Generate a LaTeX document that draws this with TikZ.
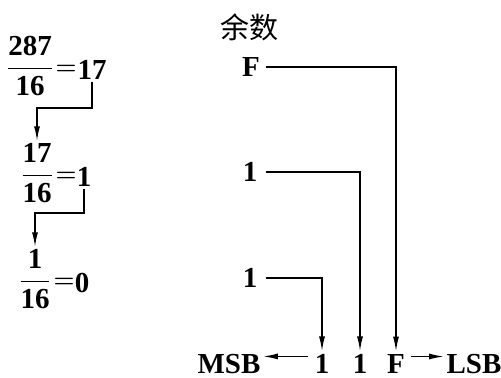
\documentclass[tikz,border=0pt]{standalone}
\usepackage{fontspec}
\usepackage{amsmath}
\setmainfont{Liberation Serif}
\newfontfamily\cjk{Noto Sans CJK SC}
\usetikzlibrary{arrows.meta}

\begin{document}
\begin{tikzpicture}[x=0.5pt, y=-0.5pt]

%-------------------------------------------------
% Styles
%-------------------------------------------------
\tikzset{
  txt/.style={inner sep=1pt, font=\fontsize{14.5}{17}\selectfont\bfseries},
  eqsign/.style={inner sep=0pt, font=\fontsize{12}{14}\selectfont},
  digit/.style={txt, anchor=base},
  flow/.style={draw=black, line width=0.8pt, -{Latex[length=7.5pt,width=3pt]}}
}

\useasboundingbox (0,0) rectangle (501,378);

%-------------------------------------------------
% LEFT: repeated division by 16
%-------------------------------------------------
\node[txt] (frac1) at (30,66) {$\dfrac{\textbf{287}}{\textbf{16}}$};
\node[eqsign] (eq1) at (66,70) {$\boldsymbol{=}$};
\node[txt] (res1)  at (92,70) {17};

\node[txt] (frac2) at (37,173) {$\dfrac{\textbf{17}}{\textbf{16}}$};
\node[eqsign] (eq2) at (66,177) {$\boldsymbol{=}$};
\node[txt] (res2)  at (84,177) {1};

\node[txt] (frac3) at (35,279) {$\dfrac{\textbf{1}}{\textbf{16}}$};
\node[eqsign] (eq3) at (64,283) {$\boldsymbol{=}$};
\node[txt] (res3)  at (82,283) {0};

% quotient carried down
\draw[flow] (res1.south) -- ++(0,26) -| (frac2.north);
\draw[flow] (res2.south) -- ++(0,24) -| (frac3.north);

%-------------------------------------------------
% RIGHT: remainders
%-------------------------------------------------
\node[font=\fontsize{14.5}{17}\selectfont\cjk] (title) at (249,27) {余数};

\node[txt] (remF) at (251,67)  {F};
\node[txt] (rem1) at (250,172) {1};
\node[txt] (rem0) at (250,278) {1};

% result digits
\node[digit] (hexA) at (322,373) {1};
\node[digit] (hexB) at (360,373) {1};
\node[digit] (hexC) at (396,373) {F};

\node[digit] (msb) at (229,373) {MSB};
\node[digit] (lsb) at (474,373) {LSB};

\draw[flow] (remF.east) ++(4,0) -| (hexC.north);
\draw[flow] (rem1.east) ++(6,0) -| (hexB.north);
\draw[flow] (rem0.east) ++(6,0) -| (hexA.north);

\draw[flow] (hexA.west) ++(-4,-7) coordinate (msbtail) -- (msbtail -| msb.east);
\draw[flow] (hexC.east) ++(4,-7) coordinate (lsbtail) -- (lsbtail -| lsb.west);

\end{tikzpicture}
\end{document}
